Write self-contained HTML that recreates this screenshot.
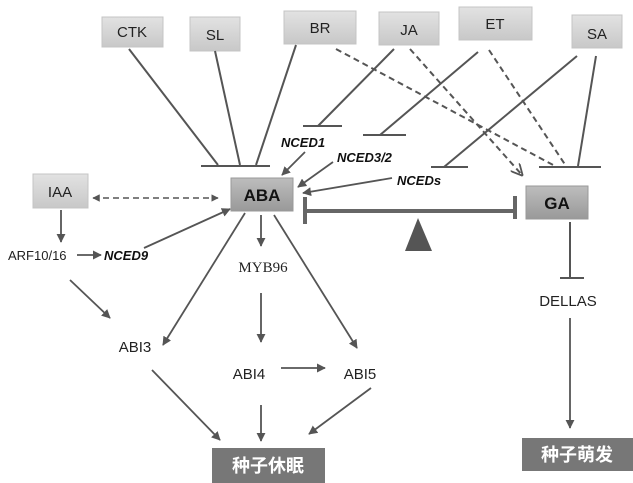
<!DOCTYPE html>
<html><head><meta charset="utf-8"><style>
html,body{margin:0;padding:0;background:#fff;width:633px;height:483px;overflow:hidden}
svg{display:block}
text{font-family:"Liberation Sans","Noto Sans CJK SC",sans-serif;fill:#222}
</style></head><body>
<svg width="633" height="483" viewBox="0 0 633 483" xmlns="http://www.w3.org/2000/svg">
<defs>
<marker id="a" viewBox="0 0 10 10" refX="9" refY="5" markerWidth="5" markerHeight="5" orient="auto-start-reverse"><path d="M0,0 L10,5 L0,10 z" fill="#555"/></marker>
<marker id="o" viewBox="0 0 10 10" refX="9" refY="5" markerWidth="6" markerHeight="6" orient="auto"><path d="M0,0 L10,5 L0,10" fill="none" stroke="#555" stroke-width="1.5"/></marker>
<linearGradient id="g" x1="0" y1="0" x2="0" y2="1"><stop offset="0" stop-color="#e2e2e2"/><stop offset="1" stop-color="#c8c8c8"/></linearGradient>
<linearGradient id="g2" x1="0" y1="0" x2="0" y2="1"><stop offset="0" stop-color="#bdbdbd"/><stop offset="1" stop-color="#999"/></linearGradient>
</defs>
<g fill="url(#g)" stroke="#c4c4c4">
<rect x="102" y="17" width="61" height="30"/>
<rect x="190" y="17" width="50" height="34"/>
<rect x="284" y="11" width="72" height="33"/>
<rect x="379" y="12" width="60" height="33"/>
<rect x="459" y="7" width="73" height="33"/>
<rect x="572" y="15" width="50" height="33"/>
<rect x="33" y="174" width="55" height="34"/>
</g>
<rect x="231" y="178" width="62" height="33" fill="url(#g2)" stroke="#999"/>
<rect x="526" y="186" width="62" height="33" fill="url(#g2)" stroke="#999"/>
<g font-size="15" text-anchor="middle">
<text x="132" y="37">CTK</text><text x="215" y="40">SL</text><text x="320" y="33">BR</text>
<text x="409" y="35">JA</text><text x="495" y="29">ET</text><text x="597" y="39">SA</text>
<text x="60" y="197">IAA</text>
</g>
<text x="262" y="201" font-size="17" font-weight="bold" text-anchor="middle" style="fill:#111">ABA</text>
<text x="557" y="209" font-size="17" font-weight="bold" text-anchor="middle" style="fill:#111">GA</text>
<g stroke="#555" stroke-width="2" fill="none">
<line x1="201" y1="166" x2="270" y2="166"/>
<line x1="129" y1="49" x2="218" y2="165"/>
<line x1="215" y1="51" x2="240" y2="165"/>
<line x1="296" y1="45" x2="256" y2="165"/>
<line x1="303" y1="126" x2="342" y2="126"/>
<line x1="394" y1="49" x2="318" y2="126"/>
<line x1="363" y1="135" x2="406" y2="135"/>
<line x1="478" y1="52" x2="380" y2="135"/>
<line x1="431" y1="167" x2="468" y2="167"/>
<line x1="577" y1="56" x2="444" y2="167"/>
<line x1="539" y1="167" x2="601" y2="167"/>
<line x1="596" y1="56" x2="578" y2="166"/>
</g>
<g stroke="#555" stroke-width="2" fill="none" stroke-dasharray="6,4">
<line x1="336" y1="49" x2="555" y2="166"/>
<line x1="489" y1="50" x2="566" y2="166"/>
<line x1="410" y1="49" x2="522" y2="175" marker-end="url(#o)"/>
<line x1="93" y1="198" x2="218" y2="198" marker-end="url(#a)" marker-start="url(#a)" stroke-width="1.5"/>
</g>
<g stroke="#666" stroke-width="4" fill="none">
<line x1="305" y1="197" x2="305" y2="224"/>
<line x1="305" y1="211" x2="515" y2="211"/>
<line x1="515" y1="196" x2="515" y2="219"/>
</g>
<polygon points="418,218 405,251 432,251" fill="#555"/>
<g font-size="13" font-weight="bold" font-style="italic">
<text x="281" y="147" style="fill:#111">NCED1</text><text x="337" y="162" style="fill:#111">NCED3/2</text><text x="397" y="185" style="fill:#111">NCEDs</text>
<text x="104" y="260" style="fill:#111">NCED9</text>
</g>
<g font-size="13"><text x="8" y="260">ARF10/16</text></g>
<g font-size="15" text-anchor="middle">
<text x="135" y="352">ABI3</text><text x="249" y="379">ABI4</text><text x="360" y="379">ABI5</text>
<text x="568" y="306">DELLAS</text>
<text x="263" y="272" style="font-family:'Liberation Serif',serif">MYB96</text>
</g>
<g stroke="#555" stroke-width="1.8" fill="none" marker-end="url(#a)">
<line x1="305" y1="152" x2="282" y2="175"/>
<line x1="333" y1="162" x2="298" y2="187"/>
<line x1="392" y1="178" x2="303" y2="193"/>
<line x1="61" y1="210" x2="61" y2="242"/>
<line x1="77" y1="255" x2="101" y2="255"/>
<line x1="144" y1="248" x2="230" y2="209"/>
<line x1="70" y1="280" x2="110" y2="318"/>
<line x1="245" y1="213" x2="163" y2="345"/>
<line x1="261" y1="215" x2="261" y2="246"/>
<line x1="274" y1="215" x2="357" y2="348"/>
<line x1="261" y1="293" x2="261" y2="342"/>
<line x1="281" y1="368" x2="325" y2="368"/>
<line x1="152" y1="370" x2="220" y2="440"/>
<line x1="261" y1="405" x2="261" y2="441"/>
<line x1="371" y1="388" x2="309" y2="434"/>
<line x1="570" y1="318" x2="570" y2="428"/>
</g>
<g stroke="#555" stroke-width="2"><line x1="570" y1="222" x2="570" y2="278"/><line x1="560" y1="278" x2="584" y2="278"/></g>
<rect x="212" y="448" width="113" height="35" fill="#777"/>
<rect x="522" y="438" width="111" height="33" fill="#777"/>
<g font-size="18" font-weight="bold" text-anchor="middle">
<text x="268" y="472" style="fill:#fff">种子休眠</text>
<text x="577" y="461" style="fill:#fff">种子萌发</text>
</g>
</svg>
</body></html>
